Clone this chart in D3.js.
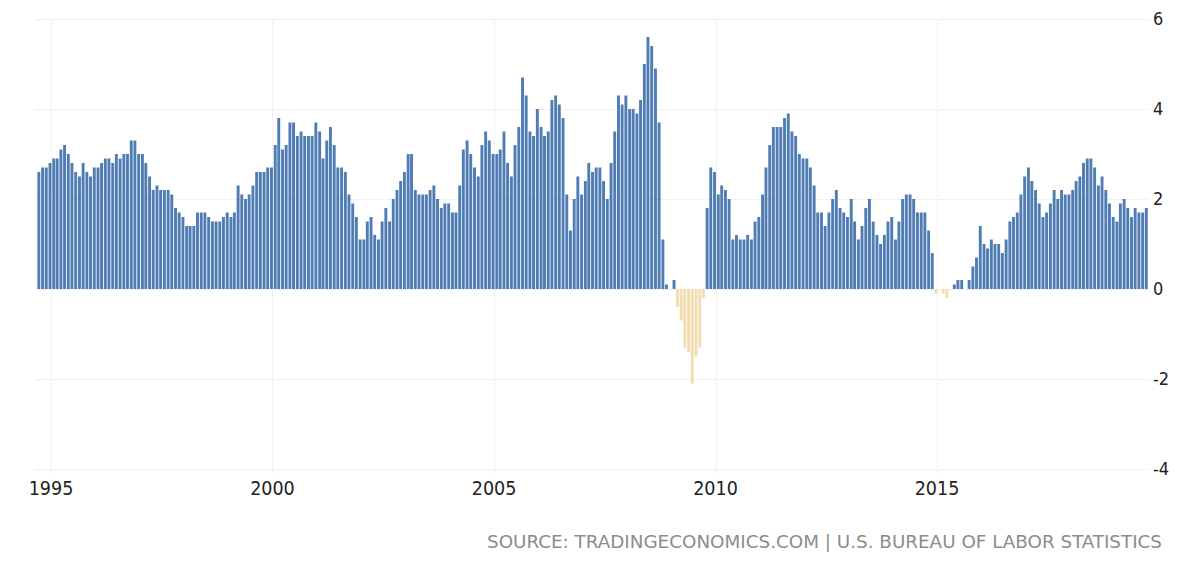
<!DOCTYPE html>
<html>
<head>
<meta charset="utf-8">
<script src="https://cdn.jsdelivr.net/npm/d3@7"></script>
<style>
  html, body { margin: 0; padding: 0; background: #fff; }
  svg { display: block; }
</style>
</head>
<body>
<svg id="chart" width="1200" height="569"></svg>
<script>
// Monthly US CPI inflation rate (YoY %), Oct 1994 .. Oct 2019
const startYear = 1994, startMonth = 9; // October 1994 (0-based month)
const values = [
  // 1994 Oct-Dec
  2.6, 2.7, 2.7,
  // 1995
  2.8, 2.9, 2.9, 3.1, 3.2, 3.0, 2.8, 2.6, 2.5, 2.8, 2.6, 2.5,
  // 1996
  2.7, 2.7, 2.8, 2.9, 2.9, 2.8, 3.0, 2.9, 3.0, 3.0, 3.3, 3.3,
  // 1997
  3.0, 3.0, 2.8, 2.5, 2.2, 2.3, 2.2, 2.2, 2.2, 2.1, 1.8, 1.7,
  // 1998
  1.6, 1.4, 1.4, 1.4, 1.7, 1.7, 1.7, 1.6, 1.5, 1.5, 1.5, 1.6,
  // 1999
  1.7, 1.6, 1.7, 2.3, 2.1, 2.0, 2.1, 2.3, 2.6, 2.6, 2.6, 2.7,
  // 2000
  2.7, 3.2, 3.8, 3.1, 3.2, 3.7, 3.7, 3.4, 3.5, 3.4, 3.4, 3.4,
  // 2001
  3.7, 3.5, 2.9, 3.3, 3.6, 3.2, 2.7, 2.7, 2.6, 2.1, 1.9, 1.6,
  // 2002
  1.1, 1.1, 1.5, 1.6, 1.2, 1.1, 1.5, 1.8, 1.5, 2.0, 2.2, 2.4,
  // 2003
  2.6, 3.0, 3.0, 2.2, 2.1, 2.1, 2.1, 2.2, 2.3, 2.0, 1.8, 1.9,
  // 2004
  1.9, 1.7, 1.7, 2.3, 3.1, 3.3, 3.0, 2.7, 2.5, 3.2, 3.5, 3.3,
  // 2005
  3.0, 3.0, 3.1, 3.5, 2.8, 2.5, 3.2, 3.6, 4.7, 4.3, 3.5, 3.4,
  // 2006
  4.0, 3.6, 3.4, 3.5, 4.2, 4.3, 4.1, 3.8, 2.1, 1.3, 2.0, 2.5,
  // 2007
  2.1, 2.4, 2.8, 2.6, 2.7, 2.7, 2.4, 2.0, 2.8, 3.5, 4.3, 4.1,
  // 2008
  4.3, 4.0, 4.0, 3.9, 4.2, 5.0, 5.6, 5.4, 4.9, 3.7, 1.1, 0.1,
  // 2009
  0.0, 0.2, -0.4, -0.7, -1.3, -1.4, -2.1, -1.5, -1.3, -0.2, 1.8, 2.7,
  // 2010
  2.6, 2.1, 2.3, 2.2, 2.0, 1.1, 1.2, 1.1, 1.1, 1.2, 1.1, 1.5,
  // 2011
  1.6, 2.1, 2.7, 3.2, 3.6, 3.6, 3.6, 3.8, 3.9, 3.5, 3.4, 3.0,
  // 2012
  2.9, 2.9, 2.7, 2.3, 1.7, 1.7, 1.4, 1.7, 2.0, 2.2, 1.8, 1.7,
  // 2013
  1.6, 2.0, 1.5, 1.1, 1.4, 1.8, 2.0, 1.5, 1.2, 1.0, 1.2, 1.5,
  // 2014
  1.6, 1.1, 1.5, 2.0, 2.1, 2.1, 2.0, 1.7, 1.7, 1.7, 1.3, 0.8,
  // 2015
  -0.1, 0.0, -0.1, -0.2, 0.0, 0.1, 0.2, 0.2, 0.0, 0.2, 0.5, 0.7,
  // 2016
  1.4, 1.0, 0.9, 1.1, 1.0, 1.0, 0.8, 1.1, 1.5, 1.6, 1.7, 2.1,
  // 2017
  2.5, 2.7, 2.4, 2.2, 1.9, 1.6, 1.7, 1.9, 2.2, 2.0, 2.2, 2.1,
  // 2018
  2.1, 2.2, 2.4, 2.5, 2.8, 2.9, 2.9, 2.7, 2.3, 2.5, 2.2, 1.9,
  // 2019 Jan-Oct
  1.6, 1.5, 1.9, 2.0, 1.8, 1.6, 1.8, 1.7, 1.7, 1.8
];
const yTicks = [-4, -2, 0, 2, 4, 6];
const xTickYears = [1995, 2000, 2005, 2010, 2015];
const sourceText = "SOURCE: TRADINGECONOMICS.COM | U.S. BUREAU OF LABOR STATISTICS";

const data = values.map((v, i) => ({ date: new Date(startYear, startMonth + i, 1), value: v }));

const svg = d3.select("#chart");
const plotLeft = 35, plotRight = 1148, plotTop = 19, plotBottom = 469;

const x = d3.scaleTime()
  .domain([new Date(1995, 0, 1), new Date(2015, 0, 1)])
  .range([51, 937]);
const y = d3.scaleLinear().domain([-4, 6]).range([plotBottom, plotTop]);

const gridColor = "#e3e3e3";

// horizontal gridlines
svg.append("g").selectAll("line").data(yTicks).join("line")
  .attr("x1", plotLeft).attr("x2", plotRight)
  .attr("y1", d => Math.round(y(d)) + 0.5).attr("y2", d => Math.round(y(d)) + 0.5)
  .attr("stroke", gridColor).attr("stroke-width", 1)
  .attr("stroke-dasharray", "1,1");

// vertical gridlines
const yearDates = xTickYears.map(yr => new Date(yr, 0, 1));
svg.append("g").selectAll("line").data(yearDates).join("line")
  .attr("x1", d => Math.round(x(d)) + 0.5).attr("x2", d => Math.round(x(d)) + 0.5)
  .attr("y1", plotTop).attr("y2", plotBottom + 6)
  .attr("stroke", gridColor).attr("stroke-width", 1)
  .attr("stroke-dasharray", "1,1");

// bars
const barW = 2.9;
svg.append("g").selectAll("rect").data(data).join("rect")
  .attr("x", d => x(d.date) - 1 - barW / 2)
  .attr("width", barW)
  .attr("y", d => Math.min(y(d.value), y(0)))
  .attr("height", d => Math.abs(y(d.value) - y(0)))
  .attr("fill", d => d.value < 0 ? "#f3ddb0" : "#4f7db3");

// y axis labels (right)
svg.append("g").selectAll("text").data(yTicks).join("text")
  .attr("x", 1153)
  .attr("y", d => y(d))
  .attr("dy", "0.36em")
  .attr("font-family", "'DejaVu Sans Condensed', 'DejaVu Sans', sans-serif")
  .attr("font-size", 18)
  .attr("fill", "#222")
  .text(d => d);

// x axis labels
svg.append("g").selectAll("text").data(yearDates).join("text")
  .attr("x", d => x(d))
  .attr("y", 495)
  .attr("text-anchor", "middle")
  .attr("font-family", "'DejaVu Sans Condensed', 'DejaVu Sans', sans-serif")
  .attr("font-size", 19.5)
  .attr("fill", "#222")
  .text(d => d.getFullYear());

// source
svg.append("text")
  .attr("x", 487).attr("y", 548)
  .attr("font-family", "'DejaVu Sans Condensed', 'DejaVu Sans', sans-serif")
  .attr("font-size", 18.5)
  .attr("fill", "#8c8c8c")
  .attr("textLength", 675)
  .attr("lengthAdjust", "spacingAndGlyphs")
  .text(sourceText);
</script>
</body>
</html>
